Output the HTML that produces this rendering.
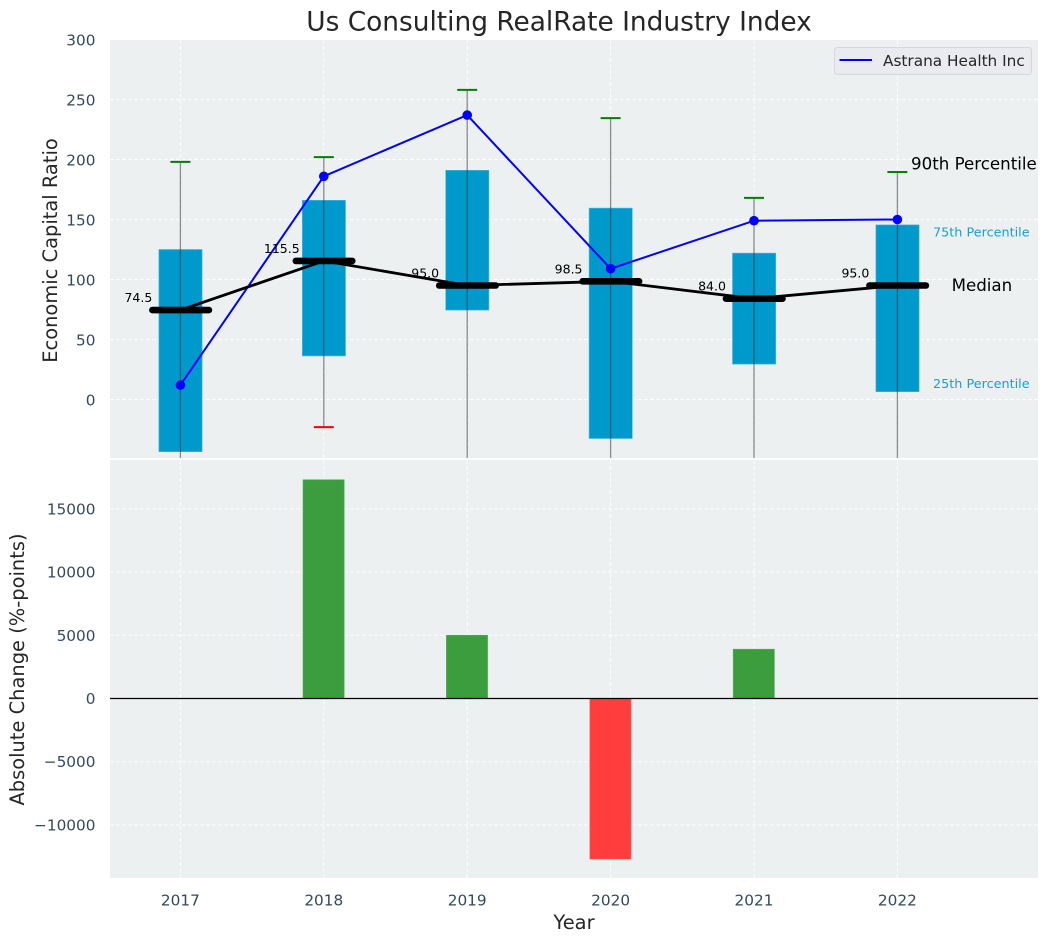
<!DOCTYPE html>
<html>
<head>
<meta charset="utf-8">
<style>
html,body{margin:0;padding:0;background:#fff;width:1048px;height:942px;overflow:hidden}
svg{display:block}
text{font-family:"DejaVu Sans","Liberation Sans",sans-serif}
</style>
</head>
<body>
<svg id="chart" xmlns="http://www.w3.org/2000/svg" width="1048" height="942" viewBox="0 0 1048 942">
  <defs>
    <clipPath id="top-clip"><rect x="110" y="40" width="928" height="418"/></clipPath>
    <clipPath id="bottom-clip"><rect x="110" y="460" width="928" height="418"/></clipPath>
  </defs>
  <rect x="110" y="40" width="928" height="418" fill="#ecf0f1"/>
  <rect x="110" y="460" width="928" height="418" fill="#ecf0f1"/>
  <g id="grid"></g>
  <g id="top-marks" clip-path="url(#top-clip)"></g>
  <g id="top-labels"></g>
  <g id="bottom-marks" clip-path="url(#bottom-clip)"></g>
  <g id="axes"></g>
  <text x="559" y="30.5" text-anchor="middle" font-size="26.4" fill="#262626">Us Consulting RealRate Industry Index</text>
  <text transform="translate(57,250.5) rotate(-90)" text-anchor="middle" font-size="19.45" fill="#262626">Economic Capital Ratio</text>
  <text transform="translate(24,669.5) rotate(-90)" text-anchor="middle" font-size="19.45" fill="#262626">Absolute Change (%-points)</text>
  <text x="574" y="929" text-anchor="middle" font-size="19.45" fill="#262626">Year</text>
  <g>
    <rect x="834.5" y="47.5" width="197" height="27" rx="3" fill="#e9ebf0" stroke="#d5d7da" stroke-width="1"/>
    <line x1="839.5" y1="60" x2="872" y2="60" stroke="#0000ff" stroke-width="2"/>
    <text x="883" y="66" font-size="15.3" fill="#262626">Astrana Health Inc</text>
  </g>
</svg>
<script>
const years = ['2017', '2018', '2019', '2020', '2021', '2022'];
const p25 = [-43.5, 36.3, 74.5, -32.5, 29.5, 6.5];
const p75 = [125, 166, 191, 159.5, 122, 145.5];
const p90 = [198, 202, 258, 234.5, 168, 189.6];
const p10 = [-60, -23, -60, -60, -60, -60];
const medians = [74.5, 115.5, 95, 98.5, 84, 95];
const company = [12, 186, 237, 109, 149, 150];
const changes = [0, 17300, 5000, -12700, 3900, 0];
const topTicks = [0, 50, 100, 150, 200, 250, 300];
const bottomTicks = [-10000, -5000, 0, 5000, 10000, 15000];

const NS = 'http://www.w3.org/2000/svg';
function xPos(i) { return 180.4 + i * 143.4; }
function yTop(v) { return 399.5 - v * 1.2; }
function yBot(v) { return 698.5 - v * 0.012645; }
function make(parent, tag, attrs, txt) {
  const el = document.createElementNS(NS, tag);
  for (const k in attrs) el.setAttribute(k, attrs[k]);
  if (txt !== undefined) el.textContent = txt;
  parent.appendChild(el);
  return el;
}
const grid = document.getElementById('grid');
const topMarks = document.getElementById('top-marks');
const topLabels = document.getElementById('top-labels');
const bottomMarks = document.getElementById('bottom-marks');
const axes = document.getElementById('axes');
const gridStyle = {stroke: '#ffffff', 'stroke-width': 1, 'stroke-dasharray': '4 2', 'stroke-opacity': 0.85};

years.forEach(function (year, i) {
  const x = xPos(i);
  const g1 = make(grid, 'line', Object.assign({x1: x, x2: x, y1: 40, y2: 458}, gridStyle));
  
  
  const g2 = make(grid, 'line', Object.assign({x1: x, x2: x, y1: 460, y2: 878}, gridStyle));
  
  
  const t = make(axes, 'text', {x: x, y: 905.5, 'text-anchor': 'middle', 'font-size': 15.3, fill: '#34495e'}, year);
  
  
});

topTicks.forEach(function (v) {
  const y = yTop(v);
  const g = make(grid, 'line', Object.assign({x1: 110, x2: 1038, y1: y, y2: y}, gridStyle));
  
  
  const t = make(axes, 'text', {x: 95.5, y: y + 6, 'text-anchor': 'end', 'font-size': 15.3, fill: '#34495e'}, String(v));
  
  
});

bottomTicks.forEach(function (v) {
  const y = yBot(v);
  const g = make(grid, 'line', Object.assign({x1: 110, x2: 1038, y1: y, y2: y}, gridStyle));
  
  
  const label = v < 0 ? '\u2212' + Math.abs(v) : String(v);
  const t = make(axes, 'text', {x: 95.5, y: y + 5.5, 'text-anchor': 'end', 'font-size': 15.3, fill: '#34495e'}, label);
  
  
});

years.forEach(function (year, i) {
  const x = xPos(i);
  const box = make(topMarks, 'rect', {x: x - 21.5, y: yTop(p75[i]), width: 43.2, height: yTop(p25[i]) - yTop(p75[i]), fill: '#0099cc', stroke: '#4db8dc', 'stroke-width': 0.6});
  
  
});

years.forEach(function (year, i) {
  const x = xPos(i);
  const w = make(topMarks, 'line', {x1: x, x2: x, y1: yTop(p90[i]), y2: yTop(p10[i]), stroke: '#333333', 'stroke-width': 1.3, 'stroke-opacity': 0.55});
  
  
  const c = make(topMarks, 'line', {x1: x - 10, x2: x + 10, y1: yTop(p90[i]), y2: yTop(p90[i]), stroke: '#008000', 'stroke-width': 2});
  
  
  const c2 = make(topMarks, 'line', {x1: x - 10, x2: x + 10, y1: yTop(p10[i]), y2: yTop(p10[i]), stroke: '#ff0000', 'stroke-width': 2});
  
  
});

const companyPts = company.map(function (v, i) { return xPos(i) + ',' + yTop(v); }).join(' ');
const companyLine = make(topMarks, 'polyline', {points: companyPts, fill: 'none', stroke: '#0000ff', 'stroke-width': 2});


company.forEach(function (v, i) {
  const p = make(topMarks, 'circle', {cx: xPos(i), cy: yTop(v), r: 4.8, fill: '#0000ff'});
  
  
});

const medianPts = medians.map(function (v, i) { return xPos(i) + ',' + yTop(v); }).join(' ');
const medianLine = make(topMarks, 'polyline', {points: medianPts, fill: 'none', stroke: '#000000', 'stroke-width': 2.8});


medians.forEach(function (v, i) {
  const x = xPos(i);
  const y = yTop(v);
  const bar = make(topMarks, 'line', {x1: x - 28, x2: x + 28.5, y1: y, y2: y, stroke: '#000000', 'stroke-width': 6.6, 'stroke-linecap': 'round'});
  
  
  const t = make(topLabels, 'text', {x: x - 42, y: y - 8, 'text-anchor': 'middle', 'font-size': 12.5, fill: '#000000'}, v.toFixed(1));
  
  
});

const lastI = years.length - 1;
const lastX = xPos(lastI);
const p90Label = make(topLabels, 'text', {x: lastX + 13.6, y: yTop(p90[lastI]) - 2.7, 'font-size': 16.67, fill: '#000000'}, '90th Percentile');


const p75Label = make(topLabels, 'text', {x: lastX + 35.6, y: yTop(p75[lastI]) + 11.5, 'font-size': 12.8, fill: '#1a9fd0'}, '75th Percentile');


const medLabel = make(topLabels, 'text', {x: lastX + 54.2, y: yTop(medians[lastI]) + 5.5, 'font-size': 16.67, fill: '#000000'}, 'Median');


const p25Label = make(topLabels, 'text', {x: lastX + 35.6, y: yTop(p25[lastI]) - 3.6, 'font-size': 12.8, fill: '#1a9fd0'}, '25th Percentile');



changes.forEach(function (v, i) {
  const y0 = yBot(0);
  const y1 = yBot(v);
  if (v === 0) return;
  const b = make(bottomMarks, 'rect', {x: xPos(i) - 20.8, y: Math.min(y0, y1), width: 41.2, height: Math.abs(y1 - y0), fill: v >= 0 ? '#3c9d3f' : '#ff3d3d', stroke: v >= 0 ? '#5aab5c' : '#ff6a6a', 'stroke-width': 0.6});
  
  
});
const zero = make(bottomMarks, 'line', {x1: 110, x2: 1038, y1: yBot(0), y2: yBot(0), stroke: '#000000', 'stroke-width': 1.3});


</script>
</body>
</html>
